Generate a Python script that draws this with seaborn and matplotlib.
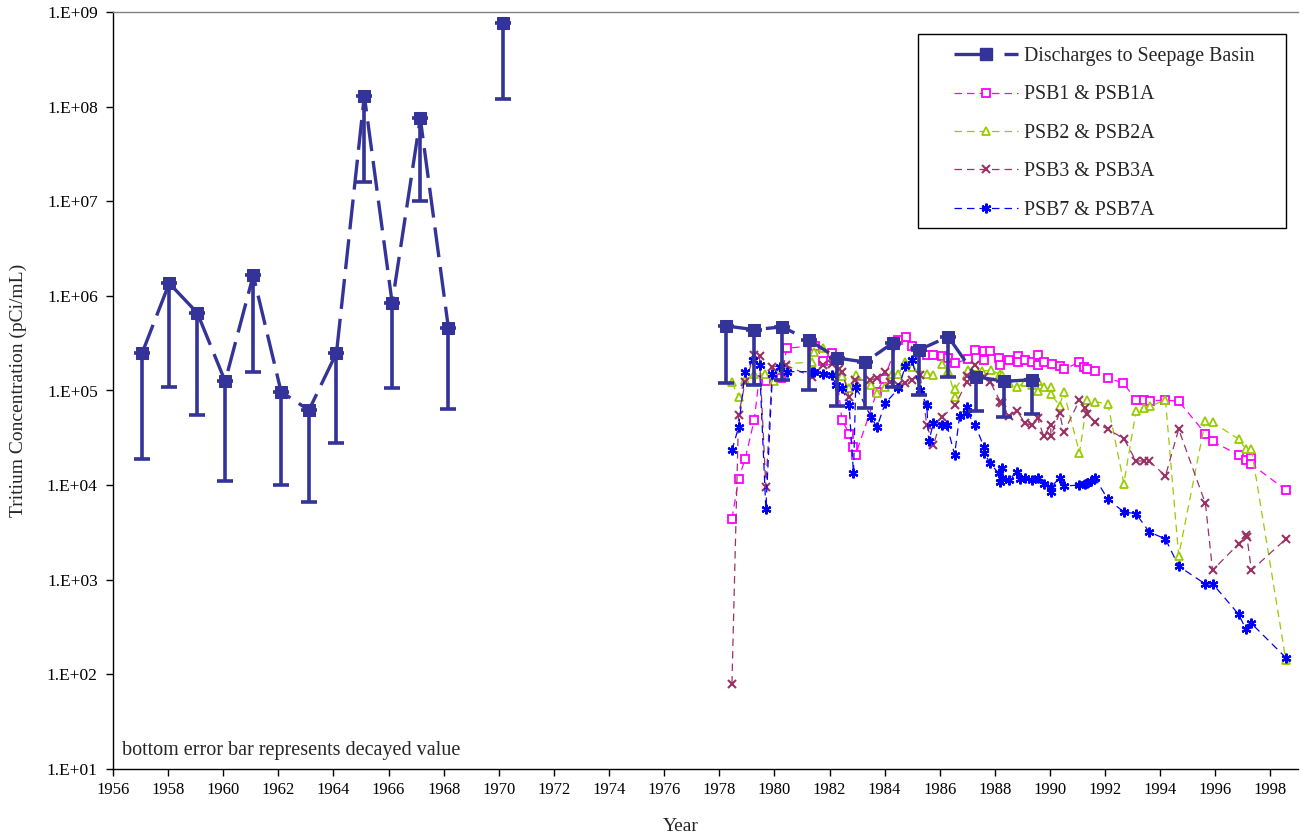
import numpy as np
import pandas as pd
import matplotlib
matplotlib.use("Agg")
import matplotlib.pyplot as plt
from matplotlib.lines import Line2D
from matplotlib.patches import Rectangle
from matplotlib.ticker import FixedLocator, FixedFormatter, NullLocator
import seaborn as sns

# ---------------- data ----------------
dis_year = [1957.06, 1958.04, 1959.06, 1960.07, 1961.09, 1962.10, 1963.11, 1964.11,
            1965.12, 1966.13, 1967.15, 1968.17, 1970.16,
            1978.25, 1979.27, 1980.28, 1981.26, 1982.28, 1983.30, 1984.31, 1985.26,
            1986.31, 1987.32, 1988.34, 1989.36]
dis_value = [2.5e5, 1.36e6, 6.6e5, 1.25e5, 1.65e6, 9.7e4, 6.2e4, 2.5e5,
             1.3e8, 8.4e5, 7.5e7, 4.6e5, 7.6e8,
             4.8e5, 4.4e5, 4.7e5, 3.4e5, 2.2e5, 2.0e5, 3.2e5, 2.7e5,
             3.7e5, 1.4e5, 1.25e5, 1.3e5]
dis_decayed = [1.9e4, 1.1e5, 5.5e4, 1.1e4, 1.55e5, 1.0e4, 6.6e3, 2.8e4,
               1.6e7, 1.07e5, 1.0e7, 6.3e4, 1.2e8,
               1.2e5, 1.15e5, 1.3e5, 1.0e5, 6.9e4, 6.5e4, 1.1e5, 9.0e4,
               1.4e5, 6.0e4, 5.2e4, 5.7e4]
dis_segment = [1] * 12 + [2] + [3] * 12

psb1_year = [1978.46, 1978.70, 1978.94, 1979.27, 1979.44, 1979.69, 1980.25, 1980.45,
             1981.48, 1981.78, 1982.08, 1982.20, 1982.45, 1982.71, 1982.87, 1982.95,
             1983.72, 1983.98, 1984.50, 1984.77, 1984.99, 1985.29, 1985.53, 1985.77,
             1986.08, 1986.30, 1986.56, 1987.02, 1987.29, 1987.59, 1987.59, 1987.83,
             1988.14, 1988.17, 1988.50, 1988.83, 1988.83, 1989.10, 1989.35, 1989.55,
             1989.57, 1989.79, 1990.07, 1990.38, 1990.50, 1991.06, 1991.22, 1991.34,
             1991.62, 1992.10, 1992.65, 1993.12, 1993.40, 1993.64, 1994.19, 1994.67,
             1995.64, 1995.90, 1996.85, 1997.11, 1997.31, 1997.31, 1998.56]
psb1_value = [4.4e3, 1.16e4, 1.9e4, 4.9e4, 1.29e5, 1.26e5, 1.36e5, 2.8e5,
              2.97e5, 2.06e5, 2.5e5, 2.1e5, 4.9e4, 3.5e4, 2.5e4, 2.1e4,
              9.7e4, 1.32e5, 3.4e5, 3.7e5, 2.95e5, 2.7e5, 2.4e5, 2.35e5,
              2.3e5, 2.2e5, 1.94e5, 2.15e5, 2.7e5, 2.6e5, 2.1e5, 2.6e5,
              2.2e5, 1.86e5, 2.1e5, 2.3e5, 2.0e5, 2.1e5, 2.0e5, 2.35e5,
              1.86e5, 2.0e5, 1.9e5, 1.82e5, 1.68e5, 1.98e5, 1.78e5, 1.7e5,
              1.62e5, 1.34e5, 1.21e5, 8.0e4, 8.0e4, 7.8e4, 7.9e4, 7.7e4,
              3.5e4, 2.9e4, 2.08e4, 1.84e4, 1.95e4, 1.66e4, 8.9e3]

psb2_year = [1978.46, 1978.70, 1978.94, 1979.27, 1979.67, 1979.97, 1980.27, 1981.36,
             1981.42, 1981.78, 1982.45, 1982.72, 1982.95, 1983.50, 1983.72, 1984.02,
             1984.26, 1984.50, 1984.75, 1984.99, 1985.53, 1985.77, 1986.08, 1986.30,
             1986.56, 1986.56, 1987.04, 1987.53, 1987.87, 1988.17, 1988.26, 1988.50,
             1988.80, 1989.10, 1989.35, 1989.55, 1989.55, 1989.77, 1990.03, 1990.03,
             1990.35, 1990.50, 1991.07, 1991.36, 1991.64, 1992.10, 1992.68, 1993.12,
             1993.40, 1993.64, 1994.19, 1994.67, 1995.64, 1995.90, 1996.85, 1997.11,
             1997.31, 1998.56]
psb2_value = [1.22e5, 8.5e4, 1.29e5, 1.5e5, 1.5e5, 1.26e5, 1.9e5, 2.0e5,
              2.57e5, 2.8e5, 1.42e5, 1.05e5, 1.47e5, 1.14e5, 9.5e4, 1.08e5,
              1.5e5, 1.5e5, 2.0e5, 1.78e5, 1.5e5, 1.47e5, 1.9e5, 1.6e5,
              8.6e4, 1.04e5, 1.65e5, 1.6e5, 1.65e5, 1.48e5, 1.45e5, 1.19e5,
              1.08e5, 1.24e5, 1.14e5, 1.27e5, 9.9e4, 1.08e5, 1.1e5, 9.2e4,
              6.9e4, 9.7e4, 2.2e4, 8.0e4, 7.6e4, 7.2e4, 1.04e4, 6.0e4,
              6.6e4, 6.8e4, 8.0e4, 1.8e3, 4.8e4, 4.6e4, 3.06e4, 2.4e4,
              2.4e4, 1.41e2]

psb3_year = [1978.46, 1978.70, 1978.94, 1979.27, 1979.46, 1979.69, 1979.93, 1980.41,
             1981.36, 1981.78, 1982.08, 1982.36, 1982.47, 1982.71, 1982.93, 1983.47,
             1983.72, 1984.02, 1984.20, 1984.50, 1984.75, 1984.99, 1985.29, 1985.53,
             1985.77, 1986.08, 1986.56, 1986.98, 1987.00, 1987.29, 1987.59, 1987.83,
             1988.20, 1988.26, 1988.50, 1988.80, 1989.10, 1989.35, 1989.55, 1989.77,
             1990.03, 1990.03, 1990.35, 1990.50, 1991.07, 1991.28, 1991.36, 1991.64,
             1992.10, 1992.68, 1993.12, 1993.40, 1993.60, 1994.19, 1994.67, 1995.64,
             1995.90, 1996.85, 1997.11, 1997.15, 1997.31, 1998.56]
psb3_value = [80, 5.5e4, 1.22e5, 2.37e5, 2.3e5, 9.6e3, 1.78e5, 1.85e5,
              1.4e5, 1.85e5, 1.9e5, 1.7e5, 1.55e5, 8.5e4, 1.29e5, 1.29e5,
              1.35e5, 1.55e5, 1.22e5, 1.14e5, 1.2e5, 1.29e5, 1.45e5, 4.3e4,
              2.65e4, 5.2e4, 7.0e4, 1.23e5, 1.42e5, 1.85e5, 1.4e5, 1.23e5,
              7.6e4, 7.3e4, 5.4e4, 6.1e4, 4.5e4, 4.3e4, 5.1e4, 3.3e4,
              4.3e4, 3.3e4, 5.8e4, 3.6e4, 7.9e4, 6.6e4, 5.7e4, 4.6e4,
              3.9e4, 3.1e4, 1.8e4, 1.8e4, 1.8e4, 1.25e4, 3.9e4, 6.4e3,
              1.26e3, 2.4e3, 3.0e3, 2.8e3, 1.26e3, 2.7e3]

psb7_year = [1978.46, 1978.70, 1978.94, 1979.24, 1979.46, 1979.69, 1979.93, 1980.21,
             1980.45, 1981.36, 1981.42, 1981.78, 1982.08, 1982.24, 1982.45, 1982.71,
             1982.87, 1982.95, 1983.50, 1983.72, 1984.02, 1984.50, 1984.75, 1984.99,
             1985.29, 1985.53, 1985.60, 1985.77, 1986.08, 1986.26, 1986.54, 1986.72,
             1987.00, 1987.00, 1987.29, 1987.61, 1987.61, 1987.83, 1988.14, 1988.17,
             1988.26, 1988.26, 1988.50, 1988.80, 1988.90, 1989.10, 1989.35, 1989.55,
             1989.77, 1990.03, 1990.03, 1990.38, 1990.50, 1991.07, 1991.28, 1991.36,
             1991.50, 1991.64, 1992.10, 1992.68, 1993.12, 1993.60, 1994.19, 1994.67,
             1995.64, 1995.90, 1996.85, 1997.11, 1997.31, 1998.56]
psb7_value = [2.34e4, 4.1e4, 1.58e5, 2.1e5, 1.85e5, 5.6e3, 1.5e5, 1.78e5,
              1.58e5, 1.58e5, 1.58e5, 1.5e5, 1.45e5, 1.14e5, 1.05e5, 7.0e4,
              1.33e4, 1.1e5, 5.3e4, 4.1e4, 7.3e4, 1.05e5, 1.8e5, 2.1e5,
              1.0e5, 7.0e4, 2.9e4, 4.5e4, 4.3e4, 4.3e4, 2.1e4, 5.4e4,
              6.7e4, 5.8e4, 4.3e4, 2.5e4, 2.2e4, 1.7e4, 1.33e4, 1.08e4,
              1.5e4, 1.2e4, 1.13e4, 1.38e4, 1.15e4, 1.2e4, 1.13e4, 1.2e4,
              1.04e4, 8.5e3, 9.6e3, 1.2e4, 9.8e3, 1.0e4, 1.04e4, 1.05e4,
              1.1e4, 1.18e4, 7.1e3, 5.2e3, 5.0e3, 3.2e3, 2.7e3, 1.39e3,
              9.0e2, 9.1e2, 4.3e2, 3.0e2, 3.45e2, 1.5e2]

year_ticks = list(range(1956, 2000, 2))
conc_ticks = [1e1, 1e2, 1e3, 1e4, 1e5, 1e6, 1e7, 1e8, 1e9]
conc_labels = ["1.E+01", "1.E+02", "1.E+03", "1.E+04", "1.E+05",
               "1.E+06", "1.E+07", "1.E+08", "1.E+09"]

series_names = ["Discharges to Seepage Basin", "PSB1 & PSB1A", "PSB2 & PSB2A",
                "PSB3 & PSB3A", "PSB7 & PSB7A"]

# ---------------- style ----------------
sns.set_theme(style="ticks")
plt.rcParams['font.family'] = ['Liberation Serif', 'DejaVu Serif']

W, H = 1308, 838
fig = plt.figure(figsize=(W / 100, H / 100), dpi=100)
ax_l, ax_r, ax_t, ax_b = 113, 1298, 12, 769
ax = fig.add_axes([ax_l / W, (H - ax_b) / H, (ax_r - ax_l) / W, (ax_b - ax_t) / H])

DIS_C = "#333399"
C1, C2, C3, C7 = "#FF00FF", "#99CC00", "#993366", "#0000FF"
star = (6, 2, 0)
thin_dash = (0, (6, 4))
thick_dash = (0, (9, 3))

dis = pd.DataFrame({"year": dis_year, "value": dis_value,
                    "decayed": dis_decayed, "segment": dis_segment})

psb_styles = [
    dict(color=C1, marker="s", mfc="white", mec=C1, mew=1.3, ms=5.5),
    dict(color=C2, marker="^", mfc="white", mec=C2, mew=1.3, ms=6),
    dict(color=C3, marker="x", mec=C3, mew=1.5, ms=6),
    dict(color=C7, marker=star, mec=C7, mew=1.6, ms=7),
]
psb_data = [(psb1_year, psb1_value), (psb2_year, psb2_value),
            (psb3_year, psb3_value), (psb7_year, psb7_value)]

for (yrs, vals), st in zip(psb_data, psb_styles):
    d = pd.DataFrame({"year": yrs, "value": vals})
    sns.lineplot(data=d, x="year", y="value", ax=ax, sort=False, estimator=None,
                 lw=0.9, linestyle=thin_dash, zorder=3, **st)

# discharges: lower error bars (decayed value)
lower = dis["value"] - dis["decayed"]
ax.errorbar(dis["year"], dis["value"], yerr=[lower, np.zeros(len(dis))],
            fmt="none", ecolor=DIS_C, elinewidth=2.6, capsize=6, capthick=2.6,
            zorder=4)
sns.lineplot(data=dis, x="year", y="value", units="segment", estimator=None,
             sort=False, ax=ax, color=DIS_C, lw=2.4, linestyle=thick_dash,
             marker="s", ms=9, mfc=DIS_C, mec=DIS_C, zorder=5)

ax.set_yscale("log")
ax.set_ylim(1e1, 1e9)
ax.set_xlim(1956, 1999)
ax.yaxis.set_major_locator(FixedLocator(conc_ticks))
ax.yaxis.set_major_formatter(FixedFormatter(conc_labels))
ax.yaxis.set_minor_locator(NullLocator())
ax.xaxis.set_major_locator(FixedLocator(year_ticks))
ax.xaxis.set_major_formatter(FixedFormatter([str(y) for y in year_ticks]))
ax.xaxis.set_minor_locator(NullLocator())
ax.tick_params(axis="both", direction="out", length=5, width=1, labelsize=12,
               colors="black", pad=4)
ax.tick_params(axis="y", labelsize=12.5, pad=6)
ax.set_xlabel("")
ax.set_ylabel("")

for s in ["left", "bottom"]:
    ax.spines[s].set_color("black")
    ax.spines[s].set_linewidth(1.0)
ax.spines["top"].set_visible(True)
ax.spines["top"].set_color("#808080")
ax.spines["top"].set_linewidth(1.0)
ax.spines["right"].set_visible(False)

fig.text(18 / W, 1 - 390 / H, "Tritium Concentration (pCi/mL)", rotation=90,
         ha="center", va="center", fontsize=14)
fig.text(681 / W, 1 - 826 / H, "Year", ha="center", va="center", fontsize=14)
ax.text(0.008, 0.025, "bottom error bar represents decayed value",
        transform=ax.transAxes, ha="left", va="center", fontsize=14.5)

# legend (frame drawn as a separate box)
box = Rectangle((918 / W, 1 - 228 / H), 368 / W, 194 / H, transform=fig.transFigure,
                facecolor="white", edgecolor="black", lw=1.0, zorder=6,
                clip_on=False)
ax.add_patch(box)

handles = [Line2D([], [], color=DIS_C, lw=2.4, linestyle=(0, (11, 4)), marker="s",
                  ms=9, mfc=DIS_C, mec=DIS_C)]
for st in psb_styles:
    handles.append(Line2D([], [], lw=0.9, linestyle=thin_dash, **st))

leg = ax.legend(handles, series_names, loc="upper left",
                bbox_to_anchor=(954 / W, 1 - 47 / H),
                bbox_transform=fig.transFigure, frameon=False,
                fontsize=14.3, handlelength=3.2, numpoints=1,
                labelspacing=0.98, borderpad=0, borderaxespad=0,
                handletextpad=0.3)
leg.set_zorder(7)

fig.savefig("out.png", dpi=100)
